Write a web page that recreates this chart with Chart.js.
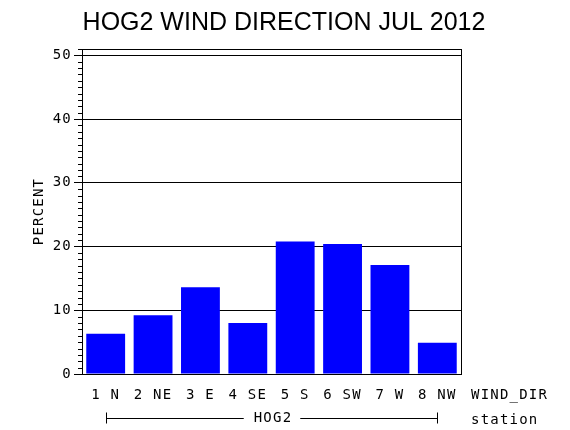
<!DOCTYPE html>
<html>
<head>
<meta charset="utf-8">
<script src="https://cdn.jsdelivr.net/npm/chart.js@4/dist/chart.umd.min.js"></script>
<style>
  html, body { margin: 0; padding: 0; background: #fff; }
</style>
</head>
<body>
<canvas id="myChart" width="570" height="430"></canvas>
<script>
  const labels = ['1 N', '2 NE', '3 E', '4 SE', '5 S', '6 SW', '7 W', '8 NW'];
  const percent = [6.3, 9.2, 13.6, 8.0, 20.8, 20.4, 17.1, 4.9];
  const yTicks = [0, 10, 20, 30, 40, 50];
  const titleText = 'HOG2 WIND DIRECTION JUL 2012';
  const stationName = 'HOG2';

  const mono = "'DejaVu Sans Mono', monospace";

  // frame, minor ticks, title and the station bracket
  const extras = {
    id: 'extras',
    beforeDraw(chart) {
      chart.ctx.letterSpacing = '1.2px';
    },
    afterDraw(chart) {
      const ctx = chart.ctx;
      const a = chart.chartArea;
      const x = chart.scales.x;
      const y = chart.scales.y;
      ctx.save();
      ctx.strokeStyle = '#000';
      ctx.lineWidth = 1;
      // frame
      ctx.strokeRect(Math.round(a.left) + 0.5, Math.round(a.top) + 0.5,
        Math.round(a.right - a.left), Math.round(a.bottom - a.top));
      // minor ticks every unit
      ctx.beginPath();
      for (let v = 1; v <= y.max; v++) {
        if (v % 10 === 0) continue;
        const py = Math.round(y.getPixelForValue(v)) + 0.5;
        ctx.moveTo(a.left - 4, py);
        ctx.lineTo(a.left, py);
      }
      ctx.stroke();

      // title
      ctx.letterSpacing = '0px';
      ctx.fillStyle = '#000';
      ctx.font = "25px 'Liberation Sans', Arial, sans-serif";
      ctx.textAlign = 'center';
      ctx.textBaseline = 'alphabetic';
      ctx.fillText(titleText, 284, 30);

      // axis names and station bracket
      ctx.letterSpacing = '1.2px';
      ctx.font = '14px ' + mono;
      ctx.textAlign = 'left';
      ctx.textBaseline = 'middle';
      ctx.fillText('WIND_DIR', a.right + 10, 395);
      ctx.fillText('station', a.right + 10, 420);

      const x0 = Math.round(x.getPixelForValue(0)) + 0.5;
      const x1 = Math.round(x.getPixelForValue(labels.length - 1)) + 0.5;
      const by = 418.5;
      const mid = (x0 + x1) / 2;
      const tw = ctx.measureText(stationName).width;
      ctx.textAlign = 'center';
      ctx.fillText(stationName, mid + 1, 418);
      ctx.beginPath();
      ctx.moveTo(x0, by - 6); ctx.lineTo(x0, by + 5);
      ctx.moveTo(x1, by - 6); ctx.lineTo(x1, by + 5);
      ctx.moveTo(x0, by); ctx.lineTo(mid - tw / 2 - 9, by);
      ctx.moveTo(mid + tw / 2 + 9, by); ctx.lineTo(x1, by);
      ctx.stroke();
      ctx.restore();
    }
  };

  const data = {
    labels: labels,
    datasets: [{
      label: 'PERCENT',
      data: percent,
      backgroundColor: 'rgb(0, 0, 255)',
      borderWidth: 0,
      barPercentage: 0.82,
      categoryPercentage: 1.0,
    }]
  };

  const config = {
    type: 'bar',
    data,
    options: {
      responsive: false,
      animation: false,
      devicePixelRatio: 1,
      layout: { padding: { left: 0, right: 109, top: 49, bottom: 0 } },
      plugins: {
        legend: { display: false },
        title: { display: false },
        tooltip: { enabled: false }
      },
      scales: {
        x: {
          offset: true,
          grid: { display: false, drawTicks: false, tickLength: 0 },
          border: { display: true, color: '#000', width: 1 },
          ticks: { color: '#000', font: { family: mono, size: 14 }, padding: 13, maxRotation: 0, autoSkip: false },
          afterFit(scale) { scale.height = 56; }
        },
        y: {
          min: 0,
          max: 51,
          afterBuildTicks(scale) { scale.ticks = yTicks.map(v => ({ value: v })); },
          grid: { color: '#000', lineWidth: 1, tickLength: 8, tickColor: '#000' },
          border: { display: true, color: '#000', width: 1 },
          ticks: { color: '#000', font: { family: mono, size: 14 }, padding: 2 },
          title: { display: true, text: 'PERCENT', color: '#000', font: { family: mono, size: 14 }, padding: { top: 31, bottom: 0 } },
          afterFit(scale) { scale.width = 82; }
        }
      }
    },
    plugins: [extras]
  };

  var myChart = new Chart(document.getElementById('myChart'), config);
</script>
</body>
</html>
